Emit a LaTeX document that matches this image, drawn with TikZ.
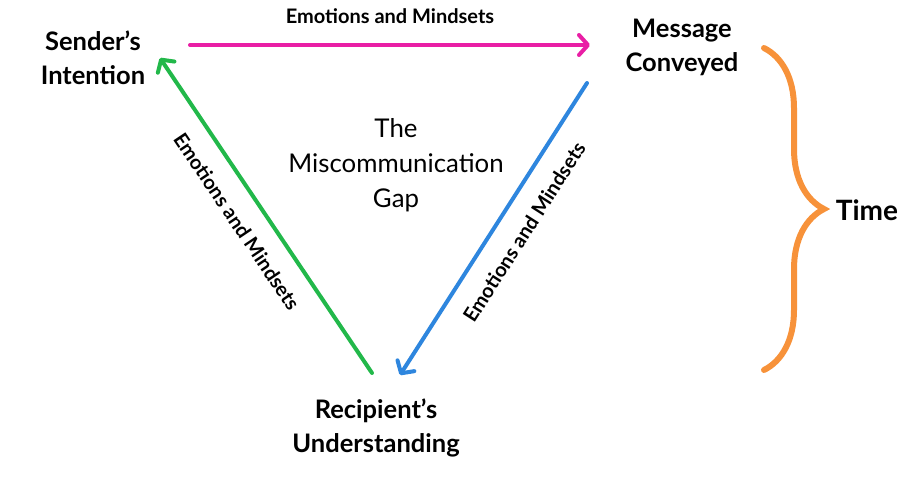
\documentclass[tikz,border=0pt]{standalone}
\usepackage{fontspec}
\setmainfont{Lato}
\usetikzlibrary{arrows.meta, calc, decorations.pathreplacing}
\definecolor{gappink}{HTML}{E91EA5}
\definecolor{gapgreen}{HTML}{22B84A}
\definecolor{gapblue}{HTML}{2E86DE}
\definecolor{gaporange}{HTML}{F7923A}

\tikzset{
	stage/.style={align=center, font=\bfseries\fontsize{25.5}{34}\selectfont},
	flow/.style={line width=4pt, line cap=round, -{Straight Barb[round, length=9pt, width=20pt]}},
	mood/.style={font=\bfseries\fontsize{20}{24}\selectfont, inner sep=2pt, text=black}
}

\begin{document}
\begin{tikzpicture}[x=1pt, y=-1pt]
		\useasboundingbox (0,0) rectangle (913,490);
		\node[stage] (send) at (93,58) {Sender’s\\Intention};
		\node[stage] (msg) at (682,47) {Message\\Conveyed};
		\node[stage] (recv) at (376,428) {Recipient’s\\Understanding};
		\node[stage, font=\bfseries\fontsize{28}{34}\selectfont] (time) at (867,210) {Time};
		\node[align=center, font=\fontsize{25.8}{35}\selectfont] (gap) at (396,165) {The\\Miscommunication\\Gap};
		\coordinate (top) at (764,48);
		\coordinate (bot) at (764,370);
		\draw[flow, gappink] ($(send)+(97,-13)$) -- node[mood, above=17pt] (m1) {Emotions and Mindsets} ($(msg)+(-92,-2)$);
		\draw[flow, gapgreen] ($(recv)+(-4,-55)$) -- node[mood, sloped, below=16pt, pos=0.53] (m2) {Emotions and Mindsets} ($(send)+(67,0)$);
		\draw[flow, gapblue] ($(msg)+(-95,36)$) -- node[mood, sloped, below=16pt, pos=0.46] (m3) {Emotions and Mindsets} ($(recv)+(24,-53)$);
		\draw[gaporange, line width=6pt, line cap=round, decorate, decoration={brace, amplitude=60pt}] (top) -- (bot);
	\end{tikzpicture}
\end{document}
